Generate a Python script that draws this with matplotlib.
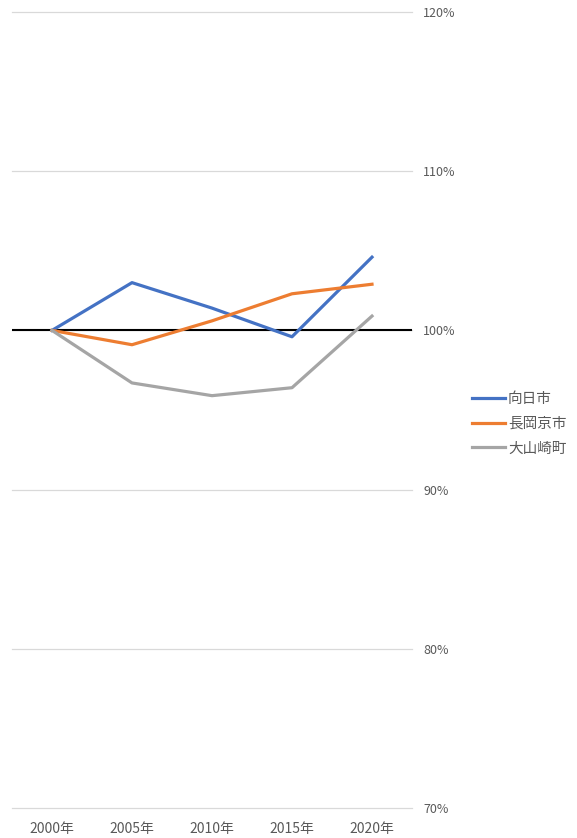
import matplotlib
matplotlib.use('Agg')
import matplotlib.pyplot as plt
import numpy as np

plt.rcParams['font.family'] = ['Noto Sans CJK JP', 'DejaVu Sans']

years = ['2000年', '2005年', '2010年', '2015年', '2020年']
mukou = [100.0, 103.0, 101.4, 99.6, 104.6]
nagaokakyo = [100.0, 99.1, 100.6, 102.3, 102.9]
oyamazaki = [100.0, 96.7, 95.9, 96.4, 100.9]
yticks = [70, 80, 90, 100, 110, 120]

colors = ['#4472C4', '#ED7D31', '#A5A5A5']
text_color = '#595959'

fig = plt.figure(figsize=(5.77, 8.38), dpi=100)
ax = fig.add_axes([12 / 577, 1 - 808 / 838, 400 / 577, 796 / 838])

x = np.arange(len(years))
for y in yticks:
    ax.axhline(y, color='#d9d9d9', linewidth=0.9, zorder=1, clip_on=False)
ax.axhline(100, color='black', linewidth=1.5, zorder=2)

ax.plot(x, mukou, color=colors[0], linewidth=2.3, label='向日市', zorder=3)
ax.plot(x, nagaokakyo, color=colors[1], linewidth=2.3, label='長岡京市', zorder=3)
ax.plot(x, oyamazaki, color=colors[2], linewidth=2.3, label='大山崎町', zorder=3)

ax.set_xlim(-0.5, 4.5)
ax.set_ylim(70, 120)
ax.set_xticks(x)
ax.set_xticklabels(years)
ax.set_yticks(yticks)
ax.set_yticklabels([f'{v}%' for v in yticks])
ax.yaxis.tick_right()
ax.tick_params(axis='both', length=0, labelcolor=text_color)
ax.tick_params(axis='y', pad=8, labelsize=9)
ax.tick_params(axis='x', pad=10, labelsize=10)
for s in ax.spines.values():
    s.set_visible(False)

fig.legend(loc='center left', bbox_to_anchor=(459 / 577, 1 - 424 / 838), frameon=False,
           fontsize=10.5, labelcolor=text_color, handlelength=2.26, handletextpad=0.2,
           labelspacing=0.72)

plt.savefig('out.png', dpi=100)
